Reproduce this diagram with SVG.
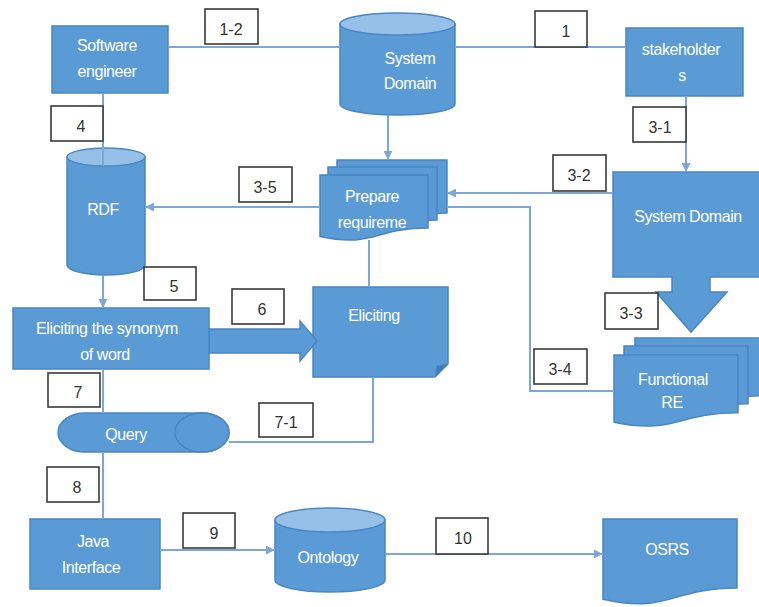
<svg xmlns="http://www.w3.org/2000/svg" width="759" height="607" viewBox="0 0 759 607">
  <style>
    .shape { fill: #5b9bd5; stroke: #4a86c3; stroke-width: 1.5; }
    .cap { fill: #97c0e8; stroke: #4a86c3; stroke-width: 1.5; }
    .fold { fill: #3f7bb8; stroke: #4a86c3; stroke-width: 1; }
    .txt { font-family: "Liberation Sans", Arial, sans-serif; font-size: 16px; fill: #ffffff; text-anchor: middle; letter-spacing: -0.4px; }
    .line { fill: none; stroke: #7ea7d8; stroke-width: 2; }
    .lbl rect { fill: #ffffff; stroke: #3a3a3a; stroke-width: 1.6; }
    .lbl text { font-family: "Liberation Sans", Arial, sans-serif; font-size: 16px; fill: #333333; text-anchor: middle; }
  </style>
  <defs>
    <marker id="arrow" viewBox="0 0 10 10" refX="9" refY="5" markerWidth="9" markerHeight="9" markerUnits="userSpaceOnUse" orient="auto">
      <path d="M0,0 L10,5 L0,10 Z" fill="#7ea7d8"/>
    </marker>
  </defs>
  <rect width="759" height="607" fill="#ffffff"/>

  <!-- nodes -->
  <g id="software-engineer">
    <rect class="shape" x="52" y="26" width="116" height="67"/>
    <text class="txt" x="107" y="51">Software</text>
    <text class="txt" x="107" y="77">engineer</text>
  </g>

  <g id="system-domain-store">
    <path class="shape" d="M340,24 V104 A57.5,11 0 0 0 455,104 V24 Z"/>
    <ellipse class="cap" cx="397.5" cy="24" rx="57.5" ry="11"/>
    <text class="txt" x="410" y="64">System</text>
    <text class="txt" x="410" y="89">Domain</text>
  </g>

  <g id="stakeholders">
    <rect class="shape" x="626" y="28" width="117" height="68"/>
    <text class="txt" x="681" y="55">stakeholder</text>
    <text class="txt" x="682" y="81">s</text>
  </g>

  <g id="rdf">
    <path class="shape" d="M67,157 V265 A39,10 0 0 0 145,265 V157 Z"/>
    <ellipse class="cap" cx="106" cy="157" rx="39" ry="9"/>
    <text class="txt" x="103" y="215">RDF</text>
  </g>

  <g id="prepare-requirements">
    <path class="shape" d="M337,160 H447 V213 C392,213 392,233 337,221.6 Z"/>
    <path class="shape" d="M328,167 H437 V220 C382.5,220 382.5,240 328,228.6 Z"/>
    <path class="shape" d="M320,175 H428 V228 C374,228 374,248 320,236.6 Z"/>
    <text class="txt" x="372" y="202">Prepare</text>
    <text class="txt" x="372" y="228">requireme</text>
  </g>

  <g id="system-domain">
    <path class="shape" d="M613,172 H762 V277 H710 V292 H727 L691,332 L656,292 H672 V277 H613 Z"/>
    <text class="txt" x="688" y="222">System Domain</text>
  </g>

  <g id="functional-re">
    <path class="shape" d="M635,338 H762 V395.7 C697,395.7 697,417.7 635,405.2 Z"/>
    <path class="shape" d="M624,346 H748 V403.7 C686,403.7 686,425.7 624,413.2 Z"/>
    <path class="shape" d="M614,355 H738 V412.7 C676,412.7 676,434.7 614,422.2 Z"/>
    <text class="txt" x="673" y="385">Functional</text>
    <text class="txt" x="672" y="408">RE</text>
  </g>

  <g id="eliciting-synonym">
    <rect class="shape" x="13" y="308" width="196" height="61"/>
    <text class="txt" x="107" y="334">Eliciting the synonym</text>
    <text class="txt" x="105" y="360">of word</text>
  </g>

  <g id="eliciting">
    <path class="shape" d="M313,287 H448 V364 L435,377 H313 Z"/>
    <path class="fold" d="M448,364 L437,366 L435,377 Z"/>
    <text class="txt" x="374" y="321">Eliciting</text>
  </g>

  <g id="query">
    <path class="shape" d="M85,413 H202 A27,19.5 0 0 1 202,452 H85 A27,19.5 0 0 1 85,413 Z"/>
    <ellipse class="shape" cx="202" cy="432.5" rx="27" ry="19.5"/>
    <text class="txt" x="126" y="440">Query</text>
  </g>

  <g id="java-interface">
    <rect class="shape" x="30" y="519" width="130" height="70"/>
    <text class="txt" x="93" y="547">Java</text>
    <text class="txt" x="91" y="573">Interface</text>
  </g>

  <g id="ontology">
    <path class="shape" d="M275,520 V580 A55,12 0 0 0 385,580 V520 Z"/>
    <ellipse class="cap" cx="330" cy="520" rx="55" ry="12"/>
    <text class="txt" x="328" y="563">Ontology</text>
  </g>

  <g id="osrs">
    <path class="shape" d="M603,519 H737 V588 C670,588 670,614 603,599.3 Z"/>
    <text class="txt" x="667" y="555">OSRS</text>
  </g>

  <!-- connectors -->
  <g id="connectors">
    <path class="line" d="M168,47 H340"/>
    <path class="line" d="M455,47 H626"/>
    <path class="line" d="M686,96 V171" marker-end="url(#arrow)"/>
    <path class="line" d="M388,115 V159" marker-end="url(#arrow)"/>
    <path class="line" d="M613,193 H448" marker-end="url(#arrow)"/>
    <path class="line" d="M613,391 H530 V207 H447"/>
    <path class="line" d="M320,207 H146" marker-end="url(#arrow)"/>
    <path class="line" d="M103,93 V166"/>
    <path class="line" d="M103,275 V307" marker-end="url(#arrow)"/>
    <path class="line" d="M369,240 V287"/>
    <path class="line" d="M373,377 V442 H229"/>
    <path class="line" d="M103,369 V413"/>
    <path class="line" d="M103,452 V519"/>
    <path class="line" d="M160,550 H274" marker-end="url(#arrow)"/>
    <path class="line" d="M385,554 H602" marker-end="url(#arrow)"/>
    <path class="shape" d="M209,329 H300 V321 L317,341 L300,361 V353 H209 Z" stroke="none"/>
  </g>

  <!-- step labels -->
  <g id="labels">
    <g class="lbl"><rect x="205" y="9" width="53" height="35"/><text x="231" y="35">1-2</text></g>
    <g class="lbl"><rect x="535" y="11" width="52" height="36"/><text x="566" y="37">1</text></g>
    <g class="lbl"><rect x="51" y="106" width="52" height="35"/><text x="81" y="132">4</text></g>
    <g class="lbl"><rect x="633" y="107" width="53" height="35"/><text x="660" y="133">3-1</text></g>
    <g class="lbl"><rect x="553" y="155" width="53" height="36"/><text x="579" y="181">3-2</text></g>
    <g class="lbl"><rect x="239" y="167" width="53" height="35"/><text x="265" y="193">3-5</text></g>
    <g class="lbl"><rect x="144" y="267" width="52" height="33"/><text x="174" y="292">5</text></g>
    <g class="lbl"><rect x="232" y="289" width="52" height="35"/><text x="262" y="315">6</text></g>
    <g class="lbl"><rect x="605" y="293" width="53" height="36"/><text x="631" y="319">3-3</text></g>
    <g class="lbl"><rect x="534" y="349" width="53" height="35"/><text x="560" y="375">3-4</text></g>
    <g class="lbl"><rect x="48" y="373" width="52" height="34"/><text x="78" y="398">7</text></g>
    <g class="lbl"><rect x="259" y="403" width="54" height="34"/><text x="286" y="428">7-1</text></g>
    <g class="lbl"><rect x="47" y="467" width="52" height="35"/><text x="77" y="493">8</text></g>
    <g class="lbl"><rect x="183" y="513" width="52" height="35"/><text x="214" y="539">9</text></g>
    <g class="lbl"><rect x="436" y="518" width="52" height="36"/><text x="463" y="544">10</text></g>
  </g>
</svg>
